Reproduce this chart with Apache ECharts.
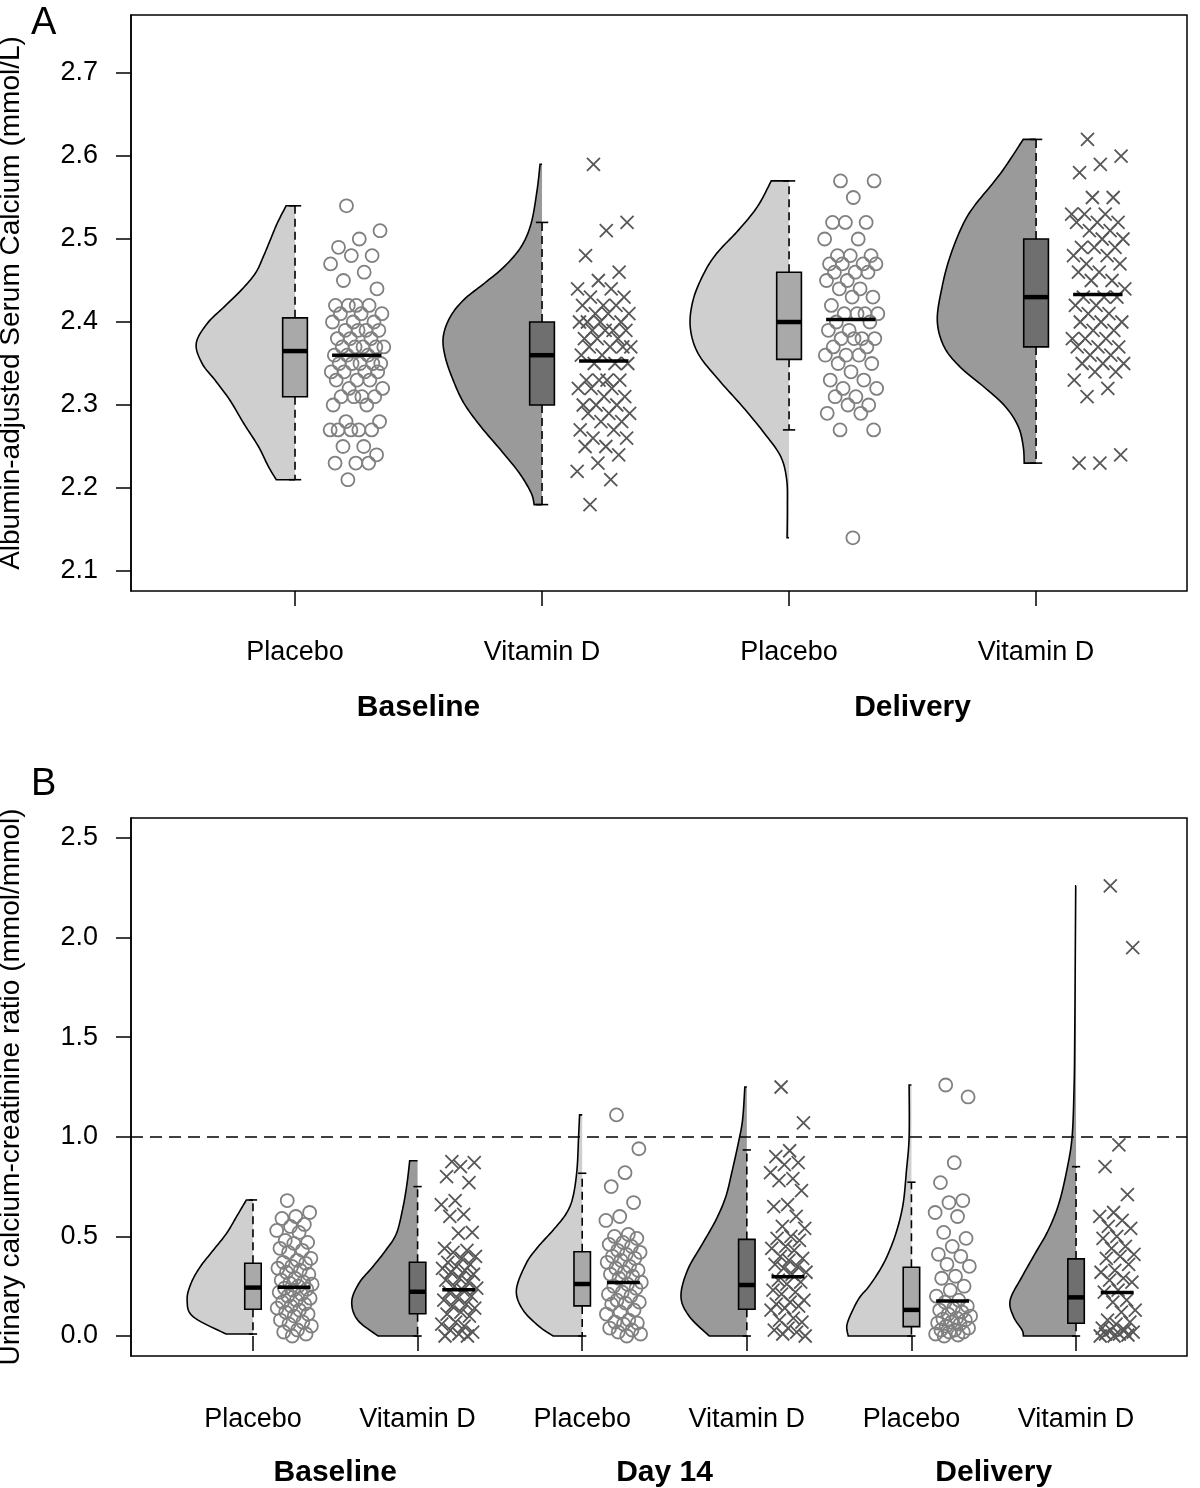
<!DOCTYPE html>
<html><head><meta charset="utf-8">
<script src="https://cdn.jsdelivr.net/npm/echarts@6/dist/echarts.min.js"></script>
<style>html,body{margin:0;padding:0;background:#fff}#c{width:1200px;height:1488px}</style>
</head><body><div id="c"></div>
<script>
// ---------------- Panel A data ----------------
const catA = ['Placebo', 'Vitamin D', 'Placebo', 'Vitamin D'];
const groupA = ['Baseline', 'Delivery'];
const typeA = ['P', 'V', 'P', 'V'];
const ticksA = [2.1, 2.2, 2.3, 2.4, 2.5, 2.6, 2.7];
// [lower whisker, Q1, median, Q3, upper whisker]
const boxA1 = [2.21, 2.31, 2.365, 2.405, 2.54];
const boxA2 = [2.18, 2.30, 2.36, 2.40, 2.52];
const boxA3 = [2.27, 2.355, 2.40, 2.46, 2.57];
const boxA4 = [2.23, 2.37, 2.43, 2.50, 2.62];
const meanA = [2.36, 2.353, 2.403, 2.433];
// violin profiles: [value, relative density]
const violinA1 = [[2.54,0.09],[2.519,0.18],[2.499,0.25],[2.479,0.32],[2.459,0.40],[2.439,0.54],[2.418,0.72],[2.398,0.89],[2.374,1.0],[2.350,0.94],[2.330,0.81],[2.306,0.66],[2.278,0.52],[2.250,0.37],[2.226,0.27],[2.21,0.19]];
const violinA2 = [[2.59,0.02],[2.559,0.05],[2.519,0.11],[2.491,0.21],[2.467,0.38],[2.447,0.58],[2.427,0.79],[2.406,0.93],[2.382,1.0],[2.358,0.98],[2.330,0.90],[2.302,0.79],[2.274,0.62],[2.246,0.42],[2.218,0.23],[2.194,0.11],[2.18,0.08]];
const violinA3 = [[2.57,0.18],[2.539,0.32],[2.511,0.51],[2.483,0.73],[2.459,0.86],[2.427,0.97],[2.394,1.0],[2.362,0.92],[2.330,0.71],[2.298,0.47],[2.266,0.25],[2.238,0.085],[2.210,0.024],[2.177,0.017],[2.14,0.02]];
const violinA4 = [[2.62,0.13],[2.579,0.36],[2.539,0.63],[2.515,0.75],[2.479,0.87],[2.443,0.95],[2.402,1.0],[2.370,0.93],[2.346,0.77],[2.322,0.53],[2.298,0.31],[2.274,0.18],[2.250,0.13],[2.23,0.12]];
const pointsA1 = [2.54,2.51,2.50,2.49,2.48,2.48,2.47,2.46,2.45,2.44,2.42,2.42,2.42,2.42,2.41,2.41,2.41,2.40,2.40,2.40,2.39,2.39,2.39,2.39,2.38,2.38,2.38,2.37,2.37,2.37,2.37,2.37,2.36,2.36,2.36,2.35,2.35,2.35,2.35,2.35,2.34,2.34,2.34,2.34,2.33,2.33,2.33,2.32,2.32,2.31,2.31,2.31,2.31,2.30,2.30,2.28,2.28,2.27,2.27,2.27,2.27,2.27,2.25,2.25,2.24,2.23,2.23,2.23,2.21];
const pointsA2 = [2.59,2.52,2.51,2.48,2.46,2.45,2.44,2.44,2.43,2.43,2.42,2.42,2.42,2.41,2.41,2.41,2.40,2.40,2.40,2.40,2.39,2.39,2.39,2.39,2.38,2.38,2.38,2.37,2.37,2.37,2.37,2.36,2.36,2.35,2.35,2.35,2.33,2.33,2.33,2.33,2.32,2.32,2.32,2.31,2.31,2.30,2.30,2.30,2.29,2.29,2.29,2.28,2.28,2.27,2.27,2.26,2.26,2.25,2.25,2.24,2.23,2.22,2.21,2.18];
const pointsA3 = [2.57,2.57,2.55,2.52,2.52,2.52,2.50,2.50,2.48,2.48,2.48,2.47,2.47,2.47,2.47,2.46,2.46,2.46,2.45,2.45,2.44,2.44,2.43,2.43,2.42,2.41,2.41,2.41,2.41,2.40,2.40,2.39,2.39,2.38,2.38,2.38,2.38,2.37,2.37,2.36,2.36,2.36,2.35,2.35,2.34,2.33,2.33,2.32,2.32,2.31,2.31,2.30,2.30,2.29,2.29,2.27,2.27,2.14];
const pointsA4 = [2.62,2.60,2.59,2.58,2.55,2.55,2.53,2.53,2.53,2.52,2.52,2.52,2.51,2.51,2.50,2.50,2.49,2.49,2.49,2.48,2.48,2.47,2.47,2.46,2.46,2.45,2.45,2.44,2.43,2.43,2.43,2.42,2.42,2.41,2.41,2.40,2.40,2.40,2.39,2.39,2.38,2.38,2.38,2.37,2.37,2.37,2.36,2.36,2.35,2.35,2.35,2.34,2.34,2.33,2.32,2.31,2.24,2.23,2.23];

// ---------------- Panel B data ----------------
const catB = ['Placebo', 'Vitamin D', 'Placebo', 'Vitamin D', 'Placebo', 'Vitamin D'];
const groupB = ['Baseline', 'Day 14', 'Delivery'];
const typeB = ['P', 'V', 'P', 'V', 'P', 'V'];
const ticksB = [0.0, 0.5, 1.0, 1.5, 2.0, 2.5];
const refLineB = 1.0;
const boxB1 = [0.01, 0.134, 0.243, 0.365, 0.683];
const boxB2 = [0.0, 0.112, 0.222, 0.37, 0.75];
const boxB3 = [0.0, 0.151, 0.261, 0.423, 0.817];
const boxB4 = [0.0, 0.134, 0.256, 0.485, 0.934];
const boxB5 = [0.0, 0.047, 0.131, 0.345, 0.772];
const boxB6 = [0.0, 0.064, 0.194, 0.387, 0.85];
const meanB = [0.245, 0.232, 0.268, 0.298, 0.176, 0.218];
const violinB1 = [[0.683,0.10],[0.599,0.25],[0.516,0.40],[0.432,0.60],[0.348,0.80],[0.265,0.94],[0.181,1.0],[0.097,0.91],[0.01,0.41]];
const violinB2 = [[0.88,0.12],[0.767,0.16],[0.649,0.22],[0.516,0.32],[0.432,0.48],[0.348,0.68],[0.265,0.89],[0.172,1.0],[0.080,0.91],[0.0,0.60]];
const violinB3 = [[1.11,0.04],[1.0,0.055],[0.833,0.08],[0.699,0.14],[0.616,0.24],[0.532,0.44],[0.448,0.67],[0.365,0.85],[0.231,1.0],[0.131,0.90],[0.047,0.65],[0.0,0.44]];
const violinB4 = [[1.25,0.03],[1.084,0.065],[0.967,0.13],[0.833,0.22],[0.699,0.32],[0.582,0.47],[0.465,0.67],[0.331,0.90],[0.197,1.0],[0.097,0.87],[0.0,0.57]];
const violinB5 = [[1.26,0.035],[1.0,0.035],[0.833,0.075],[0.666,0.125],[0.532,0.22],[0.415,0.35],[0.331,0.48],[0.247,0.65],[0.197,0.78],[0.131,0.89],[0.055,0.98],[0.0,0.96]];
const violinB6 = [[2.26,0.005],[2.0,0.01],[1.5,0.02],[1.25,0.03],[1.0,0.06],[0.833,0.14],[0.666,0.26],[0.532,0.42],[0.415,0.62],[0.298,0.82],[0.181,1.0],[0.097,0.95],[0.030,0.82],[0.0,0.80]];
const pointsB1 = [0.68,0.62,0.60,0.59,0.56,0.55,0.53,0.52,0.48,0.47,0.465,0.44,0.43,0.42,0.39,0.38,0.37,0.365,0.35,0.34,0.33,0.32,0.31,0.29,0.28,0.27,0.265,0.26,0.25,0.24,0.235,0.23,0.22,0.21,0.20,0.19,0.18,0.17,0.16,0.15,0.14,0.13,0.12,0.11,0.10,0.08,0.07,0.06,0.05,0.03,0.02,0.01,0.0];
const pointsB2 = [0.875,0.87,0.85,0.80,0.77,0.68,0.66,0.61,0.60,0.52,0.515,0.44,0.43,0.42,0.40,0.39,0.37,0.36,0.35,0.34,0.33,0.32,0.31,0.29,0.28,0.27,0.25,0.24,0.23,0.22,0.20,0.19,0.18,0.16,0.15,0.14,0.12,0.11,0.10,0.07,0.06,0.05,0.03,0.02,0.01,0.0,0.0];
const pointsB3 = [1.11,0.94,0.82,0.75,0.67,0.60,0.58,0.51,0.50,0.49,0.47,0.46,0.45,0.43,0.42,0.41,0.40,0.39,0.38,0.37,0.35,0.34,0.33,0.32,0.31,0.30,0.29,0.27,0.26,0.25,0.24,0.22,0.21,0.20,0.18,0.17,0.165,0.16,0.13,0.12,0.11,0.08,0.07,0.065,0.06,0.04,0.03,0.02,0.01,0.0];
const pointsB4 = [1.25,1.07,0.93,0.90,0.87,0.86,0.82,0.79,0.78,0.73,0.66,0.65,0.60,0.55,0.54,0.50,0.49,0.48,0.45,0.44,0.43,0.40,0.39,0.38,0.36,0.35,0.34,0.32,0.31,0.28,0.27,0.26,0.23,0.22,0.21,0.18,0.17,0.16,0.15,0.14,0.13,0.09,0.08,0.07,0.04,0.03,0.02,0.01,0.0];
const pointsB5 = [1.26,1.20,0.87,0.77,0.68,0.67,0.62,0.60,0.52,0.49,0.45,0.41,0.40,0.36,0.35,0.30,0.29,0.25,0.23,0.20,0.18,0.17,0.15,0.14,0.13,0.12,0.11,0.10,0.09,0.085,0.08,0.07,0.065,0.06,0.05,0.04,0.03,0.03,0.02,0.02,0.01,0.005,0.0];
const pointsB6 = [2.26,1.95,0.96,0.85,0.71,0.62,0.60,0.58,0.55,0.54,0.50,0.49,0.45,0.44,0.41,0.40,0.39,0.36,0.33,0.32,0.29,0.28,0.27,0.23,0.22,0.18,0.17,0.13,0.12,0.08,0.07,0.06,0.04,0.03,0.03,0.02,0.01,0.01,0.005,0.0,0.0];

// ---------------- styling / layout ----------------
const FONT = 'Liberation Sans, Arial, Helvetica, sans-serif';
const VW = 0.4, BW = 0.1, SW = 0.05, PO = 0.25, JIT = 0.22, ML = 0.1;
const STY = {
  P: { violin: '#cfcfcf', box: '#a9a9a9', symbol: 'circle', stroke: '#808080', size: 13 },
  V: { violin: '#9a9a9a', box: '#6f6f6f', symbol: 'path://M0,0L10,10M0,10L10,0', stroke: '#575757', size: 13 }
};
const jitter = j => ((((j * 0.6180339887) + 0.31) % 1) - 0.5) * JIT;

function smoothPath(pts, seg) {
  if (pts.length < 3) return pts.slice();
  const out = [];
  for (let i = 0; i < pts.length - 1; i++) {
    const p0 = pts[i - 1] || pts[i], p1 = pts[i], p2 = pts[i + 1], p3 = pts[i + 2] || pts[i + 1];
    for (let s = 0; s < seg; s++) {
      const t = s / seg, t2 = t * t, t3 = t2 * t;
      const f = k => 0.5 * ((2 * p1[k]) + (-p0[k] + p2[k]) * t + (2 * p0[k] - 5 * p1[k] + 4 * p2[k] - p3[k]) * t2 + (-p0[k] + 3 * p1[k] - 3 * p2[k] + p3[k]) * t3);
      out.push([f(0), f(1)]);
    }
  }
  out.push(pts[pts.length - 1]);
  return out;
}

function panelSeries(xi, yi, types, profiles, boxes, means, points) {
  const s = [];
  s.push({
    type: 'custom', xAxisIndex: xi, yAxisIndex: yi, z: 1, silent: true,
    data: profiles.map((p, i) => [i + 1, p[0][0]]),
    renderItem: (params, api) => {
      const i = params.dataIndex, prof = profiles[i], cx = i + 1;
      const cpx = api.coord([cx, prof[0][0]])[0];
      const raw = prof.map(([v, w]) => api.coord([cx - w * VW, v]));
      const curve = smoothPath(raw, 10).map(p => [Math.min(p[0], cpx), p[1]]);
      const top = api.coord([cx, prof[0][0]]);
      const bot = api.coord([cx, prof[prof.length - 1][0]]);
      const outline = [top].concat(curve, [bot]);
      return { type: 'group', children: [
        { type: 'polygon', shape: { points: outline }, style: { fill: STY[types[i]].violin, stroke: null } },
        { type: 'polyline', shape: { points: outline }, style: { fill: null, stroke: '#000', lineWidth: 1.6 } }
      ]};
    }
  });
  s.push({
    type: 'custom', xAxisIndex: xi, yAxisIndex: yi, z: 3, silent: true,
    data: boxes.map((b, i) => [i + 1, b[2]]),
    renderItem: (params, api) => {
      const i = params.dataIndex, b = boxes[i], cx = i + 1;
      const x = api.coord([cx, b[0]])[0];
      const yLo = api.coord([cx, b[0]])[1], yQ1 = api.coord([cx, b[1]])[1], yMd = api.coord([cx, b[2]])[1];
      const yQ3 = api.coord([cx, b[3]])[1], yHi = api.coord([cx, b[4]])[1];
      const bl = api.coord([cx - BW / 2, b[2]])[0], br = api.coord([cx + BW / 2, b[2]])[0];
      const sl = api.coord([cx - SW / 2, b[2]])[0], sr = api.coord([cx + SW / 2, b[2]])[0];
      const dash = { stroke: '#000', lineWidth: 1.6, lineDash: [8, 5] };
      const solid = { stroke: '#000', lineWidth: 1.6 };
      return { type: 'group', children: [
        { type: 'line', shape: { x1: x, y1: yQ3, x2: x, y2: yHi }, style: dash },
        { type: 'line', shape: { x1: x, y1: yQ1, x2: x, y2: yLo }, style: dash },
        { type: 'line', shape: { x1: sl, y1: yHi, x2: sr, y2: yHi }, style: solid },
        { type: 'line', shape: { x1: sl, y1: yLo, x2: sr, y2: yLo }, style: solid },
        { type: 'rect', shape: { x: bl, y: yQ3, width: br - bl, height: yQ1 - yQ3 }, style: { fill: STY[types[i]].box, stroke: '#000', lineWidth: 1.6 } },
        { type: 'line', shape: { x1: bl, y1: yMd, x2: br, y2: yMd }, style: { stroke: '#000', lineWidth: 4.5 } }
      ]};
    }
  });
  points.forEach((pts, i) => {
    const st = STY[types[i]];
    s.push({
      type: 'scatter', xAxisIndex: xi, yAxisIndex: yi, z: 4, silent: true,
      symbol: st.symbol, symbolSize: st.size,
      itemStyle: { color: 'rgba(0,0,0,0)', borderColor: st.stroke, borderWidth: 1.8, opacity: 1 },
      data: pts.map((v, j) => [i + 1 + PO + jitter(j), v])
    });
  });
  s.push({
    type: 'custom', xAxisIndex: xi, yAxisIndex: yi, z: 5, silent: true,
    data: means.map((m, i) => [i + 1 + PO, m]),
    renderItem: (params, api) => {
      const i = params.dataIndex, m = means[i], cx = i + 1 + PO;
      const a = api.coord([cx - ML, m]), b = api.coord([cx + ML, m]);
      return { type: 'line', shape: { x1: a[0], y1: a[1], x2: b[0], y2: b[1] }, style: { stroke: '#000', lineWidth: 3.5 } };
    }
  });
  return s;
}

function catAxis(grid, min, max, names, margin) {
  const vals = names.map((_, i) => i + 1);
  return {
    type: 'value', gridIndex: grid, position: 'bottom', min: min, max: max,
    axisLine: { show: false }, splitLine: { show: false },
    axisTick: { show: true, customValues: vals, length: 15, lineStyle: { color: '#000', width: 1.5 } },
    axisLabel: { customValues: vals, formatter: v => names[Math.round(v) - 1], margin: margin, fontSize: 27, color: '#000', fontFamily: FONT }
  };
}
function groupAxis(grid, min, max, groups, margin) {
  const vals = groups.map((_, i) => 1.5 + 2 * i);
  return {
    type: 'value', gridIndex: grid, position: 'bottom', offset: 0, min: min, max: max,
    axisLine: { show: false }, splitLine: { show: false }, axisTick: { show: false },
    axisLabel: { customValues: vals, formatter: v => groups[Math.round((v - 1.5) / 2)], margin: margin, fontSize: 30, fontWeight: 'bold', color: '#000', fontFamily: FONT }
  };
}
function valAxis(grid, min, max, ticks, name) {
  return {
    type: 'value', gridIndex: grid, min: min, max: max,
    name: name, nameLocation: 'middle', nameGap: 106,
    nameTextStyle: { fontSize: 28, color: '#000', fontFamily: FONT },
    axisLine: { show: true, lineStyle: { color: '#000', width: 1.5 } },
    splitLine: { show: false },
    axisTick: { show: true, customValues: ticks, length: 15, lineStyle: { color: '#000', width: 1.5 } },
    axisLabel: { customValues: ticks, formatter: v => v.toFixed(1), margin: 33, fontSize: 27, color: '#000', fontFamily: FONT }
  };
}

const seriesA = panelSeries(0, 0, typeA, [violinA1, violinA2, violinA3, violinA4],
  [boxA1, boxA2, boxA3, boxA4], meanA, [pointsA1, pointsA2, pointsA3, pointsA4]);
const seriesB = panelSeries(2, 1, typeB, [violinB1, violinB2, violinB3, violinB4, violinB5, violinB6],
  [boxB1, boxB2, boxB3, boxB4, boxB5, boxB6], meanB, [pointsB1, pointsB2, pointsB3, pointsB4, pointsB5, pointsB6]);
seriesB.push({
  type: 'scatter', xAxisIndex: 2, yAxisIndex: 1, data: [], silent: true,
  markLine: { silent: true, symbol: ['none', 'none'], label: { show: false },
    lineStyle: { color: '#000', type: [12, 7], width: 1.5 }, data: [{ yAxis: refLineB }] }
});

const chart = echarts.init(document.getElementById('c'), null, { renderer: 'canvas' });
chart.setOption({
  animation: false,
  backgroundColor: '#fff',
  textStyle: { fontFamily: FONT },
  grid: [
    { left: 131, top: 15, width: 1056, height: 576, show: true, borderColor: '#000', borderWidth: 1.5, backgroundColor: 'transparent', containLabel: false, outerBoundsMode: 'none' },
    { left: 131, top: 818, width: 1056, height: 538, show: true, borderColor: '#000', borderWidth: 1.5, backgroundColor: 'transparent', containLabel: false, outerBoundsMode: 'none' }
  ],
  xAxis: [
    catAxis(0, 0.336, 4.611, catA, 48),
    groupAxis(0, 0.336, 4.611, groupA, 102),
    catAxis(1, 0.259, 6.674, catB, 50),
    groupAxis(1, 0.259, 6.674, groupB, 102)
  ],
  yAxis: [
    valAxis(0, 2.0759, 2.7699, ticksA, 'Albumin-adjusted Serum Calcium (mmol/L)'),
    valAxis(1, -0.1004, 2.6004, ticksB, 'Urinary calcium-creatinine ratio (mmol/mmol)')
  ],
  graphic: [
    { type: 'text', left: 31, top: 5, style: { text: 'A', fontSize: 38, fill: '#000', fontFamily: FONT } },
    { type: 'text', left: 31, top: 766, style: { text: 'B', fontSize: 38, fill: '#000', fontFamily: FONT } }
  ],
  series: seriesA.concat(seriesB)
});
</script>
</body></html>
